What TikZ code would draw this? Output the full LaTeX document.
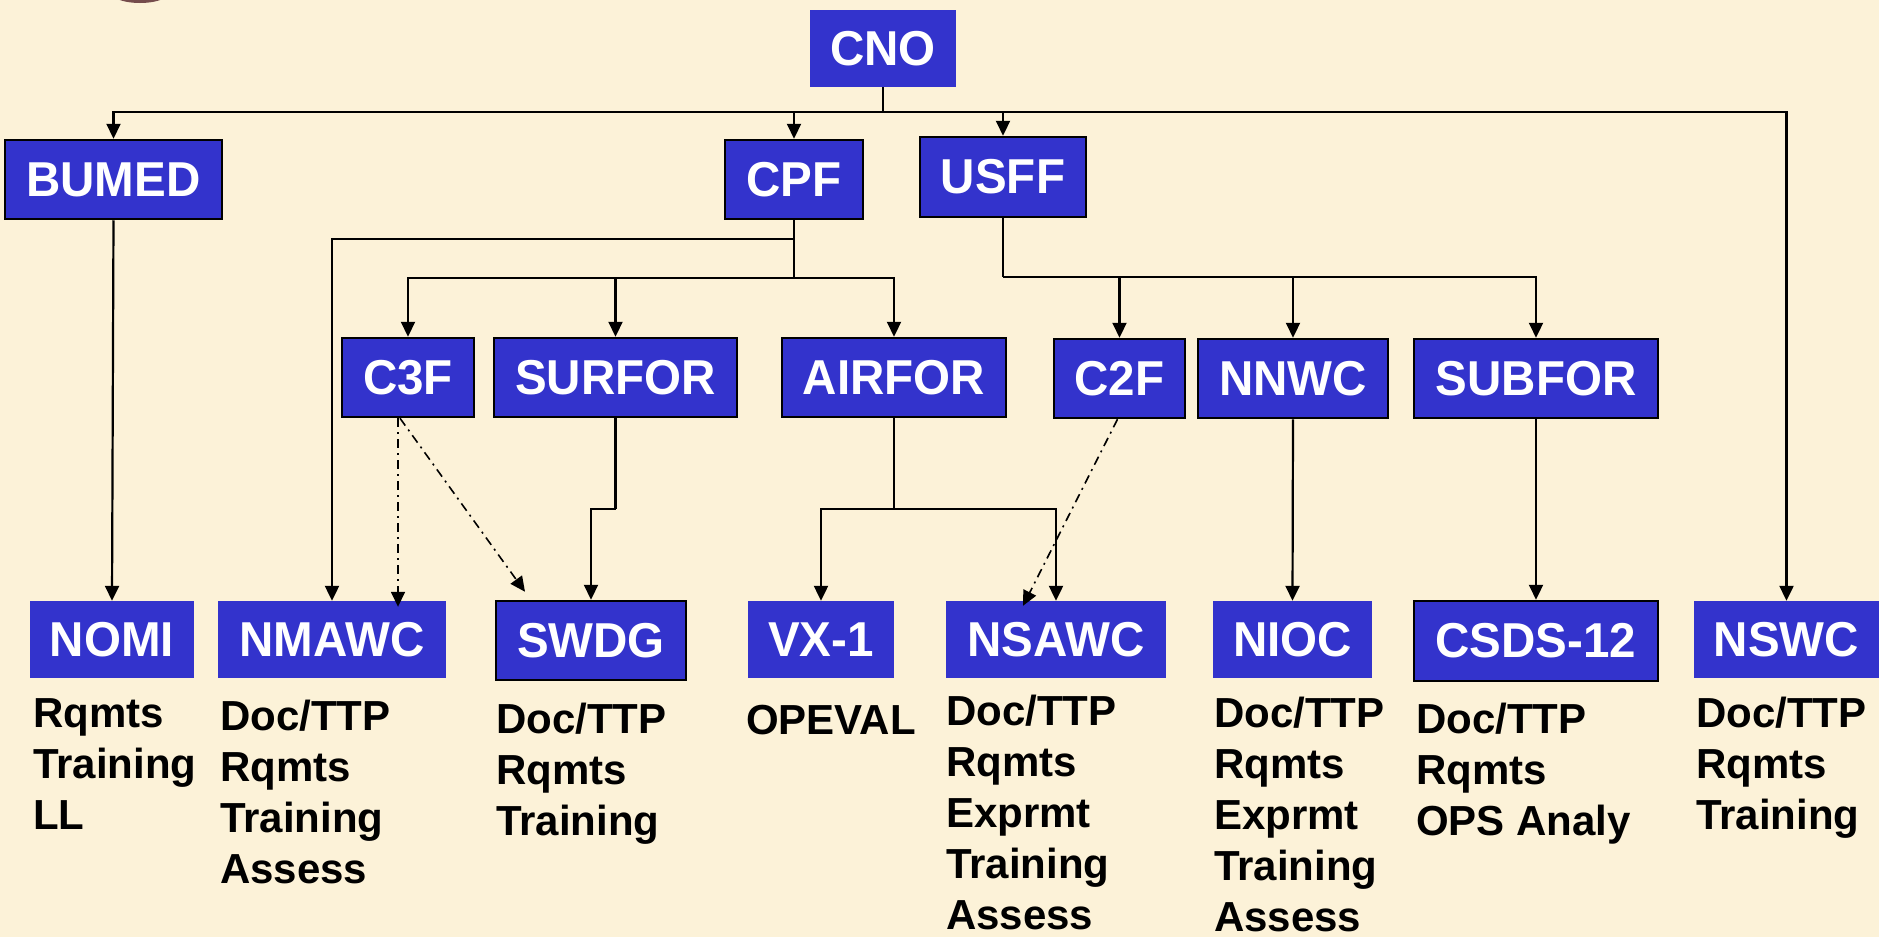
\documentclass[tikz,border=0pt]{standalone}
\usepackage{fontspec}
\setmainfont{Liberation Sans}
\newfontfamily\boxfont[FakeStretch=0.97]{Liberation Sans}
\usetikzlibrary{arrows.meta,calc}
\definecolor{bg}{RGB}{252,242,216}
\definecolor{boxblue}{RGB}{51,51,204}
\tikzset{
  box/.style={fill=boxblue, inner sep=0pt, text=white, draw=none,
    font=\boxfont\bfseries\fontsize{49}{55}\selectfont},
  bbox/.style={box, draw=black, line width=2.5pt},
  conn/.style={draw=black, line width=2.2pt},
  arr/.style={conn, -{Triangle[length=15pt,width=14pt]}},
  dd/.style={draw=black, line width=1.6pt, dash pattern=on 9pt off 5pt on 2pt off 5pt,
    -{Triangle[length=15pt,width=14pt]}},
  lst/.style={anchor=north west, inner sep=0pt, align=left, text=black,
    font=\bfseries\fontsize{42}{51}\selectfont}
}
\begin{document}
\begin{tikzpicture}[x=1pt,y=-1pt]
\useasboundingbox (0,0) rectangle (1879,937);
\fill[bg] (0,0) rectangle (1879,937);
\begin{scope}
\clip (0,0) rectangle (1879,937);
\fill[black!60!red!40!gray] (140,-10) ellipse [x radius=32pt, y radius=13pt];
\end{scope}

% top
\node[box, minimum width=146pt, minimum height=77pt] (CNO) at (883,48.5) {CNO};
% row 1
\node[bbox, minimum width=217pt, minimum height=79pt] (BUMED) at (113.5,179.5) {BUMED};
\node[bbox, minimum width=138pt, minimum height=79pt] (CPF) at (794,179.5) {CPF};
\node[bbox, minimum width=166pt, minimum height=80pt] (USFF) at (1003,177) {USFF};
% row 2
\node[bbox, minimum width=132pt, minimum height=79pt] (C3F) at (408,377.5) {C3F};
\node[bbox, minimum width=243pt, minimum height=79pt] (SURFOR) at (615.5,377.5) {SURFOR};
\node[bbox, minimum width=224pt, minimum height=79pt] (AIRFOR) at (894,377.5) {AIRFOR};
\node[bbox, minimum width=131pt, minimum height=79pt] (C2F) at (1119.5,378.5) {C2F};
\node[bbox, minimum width=190pt, minimum height=79pt] (NNWC) at (1293,378.5) {NNWC};
\node[bbox, minimum width=244pt, minimum height=79pt] (SUBFOR) at (1536,378.5) {SUBFOR};
% row 3
\node[box, minimum width=164pt, minimum height=77pt] (NOMI) at (112,639.5) {NOMI};
\node[box, minimum width=228pt, minimum height=77pt] (NMAWC) at (332,639.5) {NMAWC};
\node[bbox, minimum width=190pt, minimum height=79pt] (SWDG) at (591,640.5) {SWDG};
\node[box, minimum width=146pt, minimum height=77pt] (VX1) at (821,639.5) {VX-1};
\node[box, minimum width=220pt, minimum height=77pt] (NSAWC) at (1056,639.5) {NSAWC};
\node[box, minimum width=159pt, minimum height=77pt] (NIOC) at (1292.5,639.5) {NIOC};
\node[bbox, minimum width=244pt, minimum height=80pt] (CSDS) at (1536,641) {CSDS-12};
\node[box, minimum width=185pt, minimum height=77pt] (NSWC) at (1786.5,639.5) {NSWC};

% lists
\node[lst] (tNOMI) at (33,698) {Rqmts\\Training\\LL};
\node[lst] (tNMAWC) at (220,700) {Doc/TTP\\Rqmts\\Training\\Assess};
\node[lst] (tSWDG) at (496,703) {Doc/TTP\\Rqmts\\Training};
\node[lst] (tVX1) at (746,705) {OPEVAL};
\node[lst] (tNSAWC) at (946,695) {Doc/TTP\\Rqmts\\Exprmt\\Training\\Assess};
\node[lst] (tNIOC) at (1214,697) {Doc/TTP\\Rqmts\\Exprmt\\Training\\Assess};
\node[lst] (tCSDS) at (1416,703) {Doc/TTP\\Rqmts\\OPS Analy};
\node[lst] (tNSWC) at (1696,697) {Doc/TTP\\Rqmts\\Training};

% CNO bus
\coordinate (b0) at (883,112);
\draw[conn] (CNO.south) -- (b0);
\draw[arr] (b0) -| (BUMED.north);
\draw[arr] (b0) -| (CPF.north);
\draw[arr] (b0) -| (USFF.north);
\draw[arr] (b0) -| (NSWC.north);

% CPF
\coordinate (c1) at (794,239);
\coordinate (c2) at (794,278);
\draw[conn] (CPF.south) -- (c2);
\draw[arr] (c1) -| (NMAWC.north);
\draw[arr] (c2) -| (C3F.north);
\draw[arr] (c2) -| (SURFOR.north);
\draw[arr] (c2) -| (AIRFOR.north);

% USFF
\coordinate (u1) at (1003,277);
\draw[conn] (USFF.south) -- (u1);
\draw[arr] (u1) -| (C2F.north);
\draw[arr] (u1) -| (NNWC.north);
\draw[arr] (u1) -| (SUBFOR.north);

% lower links
\draw[arr] (BUMED.south) -- (NOMI.north);
\coordinate (s1) at (615.5,509);
\draw[conn] (SURFOR.south) -- (s1);
\draw[arr] (s1) -| (SWDG.north);
\coordinate (a1) at (894,509);
\draw[conn] (AIRFOR.south) -- (a1);
\draw[arr] (a1) -| (VX1.north);
\draw[arr] (a1) -| (NSAWC.north);
\draw[arr] (NNWC.south) -- (NIOC.north);
\draw[arr] (SUBFOR.south) -- (CSDS.north);

% dash-dot links
\draw[dd] ([xshift=-10pt]C3F.south) -- ([xshift=66pt,yshift=-6pt]NMAWC.north);
\draw[dd] ([xshift=-8pt]C3F.south) -- ([xshift=-66pt,yshift=8pt]SWDG.north);
\draw[dd] ([xshift=-2pt]C2F.south) -- ([xshift=-33pt,yshift=-5pt]NSAWC.north);
\end{tikzpicture}
\end{document}
